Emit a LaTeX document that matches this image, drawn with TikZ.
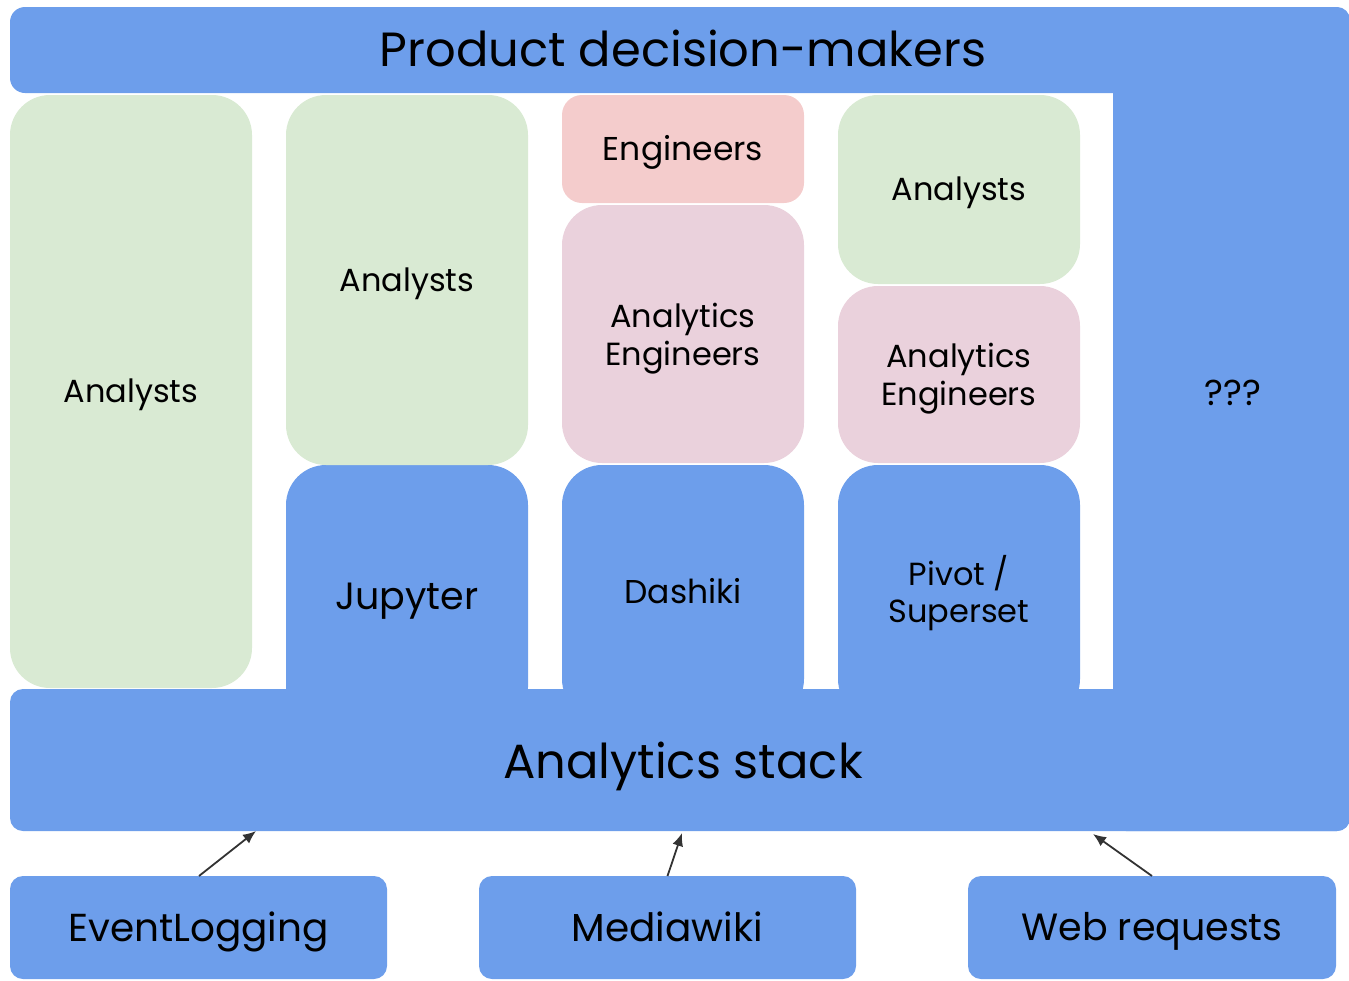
\documentclass[tikz,border=0pt]{standalone}
\usepackage{fontspec}
\setmainfont{Poppins}
\usetikzlibrary{arrows.meta}
\definecolor{slideblue}{HTML}{6D9EEB}
\definecolor{slidegreen}{HTML}{D9EAD3}
\definecolor{slidered}{HTML}{F4CCCC}
\definecolor{slidepink}{HTML}{EAD1DC}
\definecolor{arrowgray}{HTML}{333333}
\newcommand{\px}[1]{\fontsize{#1}{1.18\dimexpr #1pt\relax}\selectfont}
\begin{document}
\begin{tikzpicture}[x=1pt,y=-1pt,
    box/.style={inner sep=0pt, outer sep=0pt, align=center, rounded corners=40pt},
    sized/.style={font=\px{#1}, text height=0.72*#1pt, text depth=0.02*#1pt},
    twolines/.style={inner sep=0pt, align=center, font=\px{32}},
    bluebox/.style={box, fill=slideblue},
    greenbox/.style={box, fill=slidegreen},
    pinkbox/.style={box, fill=slidepink},
    redbox/.style={box, fill=slidered, rounded corners=20pt},
    sourcebox/.style={box, fill=slideblue, rounded corners=13pt},
    feed/.style={draw=arrowgray, line width=1.8pt, -{Latex[length=13pt,width=11pt]}}]
  \useasboundingbox (0,0) rectangle (1349,980);
  \clip (0,0) rectangle (1349,980);

  % frame: decision-makers, ??? and the stack
  \node[bluebox, rounded corners=15pt, minimum width=1340pt, minimum height=86pt] (makers) at (680,50) {};
  \node[bluebox, rounded corners=13pt, minimum width=237pt, minimum height=824pt] (unknown) at (1231.5,419) {};
  \node[bluebox, rounded corners=13pt, minimum width=1340pt, minimum height=142pt] (stack) at (680,760) {};

  % column 1
  \node[greenbox, sized=32, minimum width=242pt, minimum height=593pt] (analystsA) at (131,391.5) {Analysts};

  % column 2
  \node[bluebox, sized=38, minimum width=242pt, minimum height=262pt] (jupyter) at (407,596) {Jupyter};
  \node[greenbox, sized=32, minimum width=242pt, minimum height=370pt] (analystsB) at (407,280) {Analysts};

  % column 3
  \node[bluebox, sized=33, minimum width=242pt, minimum height=254pt] (dashiki) at (683,592) {Dashiki};
  \node[pinkbox, minimum width=242pt, minimum height=258pt] (aengC) at (683,334) {};
  \node[redbox, sized=33, minimum width=242pt, minimum height=108pt] (engineers) at (683,149) {Engineers};
  \node[twolines] (aengClabel) at (683,339) {Analytics\\Engineers};

  % column 4
  \node[bluebox, minimum width=242pt, minimum height=254pt] (pivot) at (959,592) {};
  \node[pinkbox, minimum width=242pt, minimum height=177pt] (aengD) at (959,374.5) {};
  \node[greenbox, sized=32, minimum width=242pt, minimum height=189pt] (analystsD) at (959,189.5) {Analysts};
  \node[twolines] (pivotlabel) at (959,593) {Pivot /\\Superset};
  \node[twolines] (aengDlabel) at (959,379) {Analytics\\Engineers};

  % labels on the frame
  \node[inner sep=0pt, sized=48] (makerslabel) at (683,50) {Product decision-makers};
  \node[inner sep=0pt, sized=36] (unknownlabel) at (1233,393) {???};
  \node[inner sep=0pt, sized=48] (stacklabel) at (683,762) {Analytics stack};

  % data sources
  \node[sourcebox, sized=39, minimum width=377pt, minimum height=103pt] (eventlog) at (198.5,927.5) {EventLogging};
  \node[sourcebox, sized=39, minimum width=377pt, minimum height=103pt] (mediawiki) at (667.5,927.5) {Mediawiki};
  \node[sourcebox, sized=38, minimum width=368pt, minimum height=103pt] (webreq) at (1152,927.5) {Web requests};

  \coordinate (inA) at (256,831);
  \coordinate (inB) at (682,833);
  \coordinate (inC) at (1093,834);
  \draw[feed] (eventlog.north -| 199,0) -- (inA);
  \draw[feed] (mediawiki.north) -- (inB);
  \draw[feed] (webreq.north) -- (inC);
\end{tikzpicture}
\end{document}
